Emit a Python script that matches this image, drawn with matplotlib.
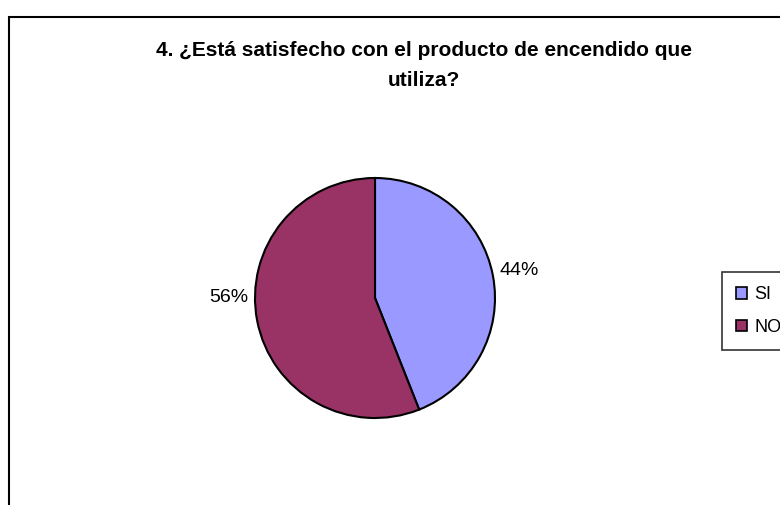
import matplotlib
matplotlib.use("Agg")
import matplotlib.pyplot as plt
from matplotlib.patches import Rectangle, Patch

# data
categories = ["SI", "NO"]
values = [44, 56]
colors = ["#9999FF", "#993366"]
title_lines = ["4. ¿Está satisfecho con el producto de encendido que", "utiliza?"]

plt.rcParams['font.family'] = ['Liberation Sans', 'DejaVu Sans']

W, H = 780, 505
fig = plt.figure(figsize=(W / 100, H / 100), dpi=100)
fig.patch.set_facecolor('white')

# outer chart frame (cut by image edges on right/bottom)
fig.add_artist(Rectangle((9 / W, -0.1), 1.2, 1.1 - 17 / H,
                         transform=fig.transFigure, fill=False,
                         edgecolor='black', linewidth=1.5))

# pie axes: centre (375, 298) px, radius 120 px
cx, cy, r = 375, 298, 120
ax = fig.add_axes([(cx - r) / W, (H - cy - r) / H, 2 * r / W, 2 * r / H])

wedges, texts, autotexts = ax.pie(values, colors=colors, startangle=90, counterclock=False,
                                  radius=1, autopct='%1.0f%%', pctdistance=1.22,
                                  wedgeprops=dict(edgecolor='black', linewidth=1.5))
ax.set_xlim(-1, 1)
ax.set_ylim(-1, 1)
ax.axis('off')
for t in autotexts:
    t.set_fontsize(14)
    t.set_color('black')
# Excel puts the NO label level with the centre
autotexts[1].set_y(0.0)
autotexts[1].set_x(-1.22)

fig.text(424 / W, 1 - 50 / H, title_lines[0], ha='center', va='center', fontsize=15,
         fontweight='bold')
fig.text(424 / W, 1 - 81 / H, title_lines[1], ha='center', va='center', fontsize=15,
         fontweight='bold')

handles = [Patch(facecolor=c, edgecolor='black', linewidth=1.2) for c in colors]
leg = fig.legend(handles, categories, loc='upper left',
                 bbox_to_anchor=(722 / W, 1 - 272 / H), fontsize=13,
                 frameon=True, fancybox=False, edgecolor='black',
                 handlelength=0.6, handleheight=0.6, handletextpad=0.4,
                 labelspacing=0.85, borderpad=0.8, borderaxespad=0)
leg.get_frame().set_linewidth(1.2)

fig.savefig('out.png', dpi=100)
